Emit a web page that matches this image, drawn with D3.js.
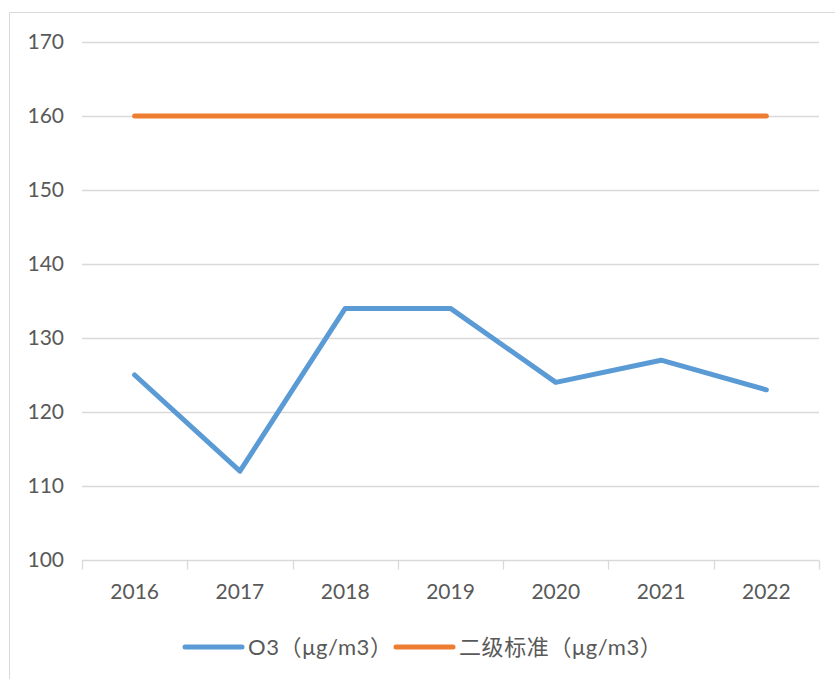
<!DOCTYPE html>
<html lang="zh">
<head>
	<meta charset="UTF-8" />
	<title>O3 折线图</title>
	<script src="https://cdn.jsdelivr.net/npm/d3@7/dist/d3.min.js"></script>
	<style>
		body { margin: 0; background: #fff; }
		text { font-family: Lato, "Noto Sans CJK SC", sans-serif; fill: #595959; }
	</style>
</head>
<body>
	<svg id="vis" width="835" height="679"></svg>
	<script>
		// Données
		var annees = ["2016", "2017", "2018", "2019", "2020", "2021", "2022"];
		var o3 = [125, 112, 134, 134, 124, 127, 123];
		var norme = [160, 160, 160, 160, 160, 160, 160];
		var ticksY = [100, 110, 120, 130, 140, 150, 160, 170];
		var nomsSeries = ["O3（μg/m3）", "二级标准（μg/m3）"];
		var couleurs = ["#5B9BD5", "#ED7D31"];

		var svg = d3.select("#vis");

		// cadre (seulement haut et gauche visibles)
		svg.append("path")
			.attr("d", "M9.5,679V12.5H835")
			.attr("fill", "none")
			.attr("stroke", "#d9d9d9")
			.attr("stroke-width", 1);

		// Echelles
		var scaleX = d3.scaleBand().domain(annees).range([82, 819]);
		var scaleY = d3.scaleLinear().domain([100, 170]).range([560, 42]);

		// grille
		svg.append("g").selectAll("line")
			.data(ticksY.slice(1))
			.join("line")
			.attr("x1", 82).attr("x2", 819)
			.attr("y1", function(d) { return Math.round(scaleY(d)) + 0.5; })
			.attr("y2", function(d) { return Math.round(scaleY(d)) + 0.5; })
			.attr("stroke", "#d9d9d9")
			.attr("stroke-width", 1.3);

		// axe Y (labels seulement)
		var gy = svg.append("g")
			.attr("transform", "translate(82,0)")
			.call(d3.axisLeft(scaleY).tickValues(ticksY).tickSize(0).tickPadding(18).tickFormat(d3.format("d")));
		gy.select(".domain").remove();
		gy.selectAll("text").attr("font-size", 21).attr("fill", "#595959").style("font-family", "Lato, sans-serif");

		// axe X
		var gx = svg.append("g")
			.attr("transform", "translate(0," + (scaleY(100) + 0.5) + ")");
		gx.append("line")
			.attr("x1", 82).attr("x2", 819)
			.attr("stroke", "#d9d9d9").attr("stroke-width", 1.3);
		gx.selectAll(".tk")
			.data(d3.range(annees.length + 1))
			.join("line")
			.attr("class", "tk")
			.attr("x1", function(i) { return Math.round(82 + i * scaleX.step()) + 0.5; })
			.attr("x2", function(i) { return Math.round(82 + i * scaleX.step()) + 0.5; })
			.attr("y1", 0).attr("y2", 9)
			.attr("stroke", "#d9d9d9").attr("stroke-width", 1.3);
		gx.selectAll(".lb")
			.data(annees)
			.join("text")
			.attr("class", "lb")
			.attr("x", function(d) { return scaleX(d) + scaleX.bandwidth() / 2; })
			.attr("y", 38)
			.attr("text-anchor", "middle")
			.attr("font-size", 21)
			.text(function(d) { return d; });

		// lignes
		var ligne = d3.line()
			.x(function(d, i) { return scaleX(annees[i]) + scaleX.bandwidth() / 2; })
			.y(function(d) { return scaleY(d); });

		[o3, norme].forEach(function(serie, j) {
			svg.append("path")
				.attr("d", ligne(serie))
				.attr("fill", "none")
				.attr("stroke", couleurs[j])
				.attr("stroke-width", 5)
				.attr("stroke-linejoin", "round")
				.attr("stroke-linecap", "round");
		});

		// légende
		var legX = [185, 396];
		var leg = svg.append("g");
		nomsSeries.forEach(function(nom, j) {
			leg.append("line")
				.attr("x1", legX[j]).attr("x2", legX[j] + 57)
				.attr("y1", 647).attr("y2", 647)
				.attr("stroke", couleurs[j])
				.attr("stroke-width", 5)
				.attr("stroke-linecap", "round");
			leg.append("text")
				.attr("x", legX[j] + 63)
				.attr("y", 655)
				.attr("font-size", 22)
				.attr("letter-spacing", 0.6)
				.text(nom);
		});
	</script>
</body>
</html>
